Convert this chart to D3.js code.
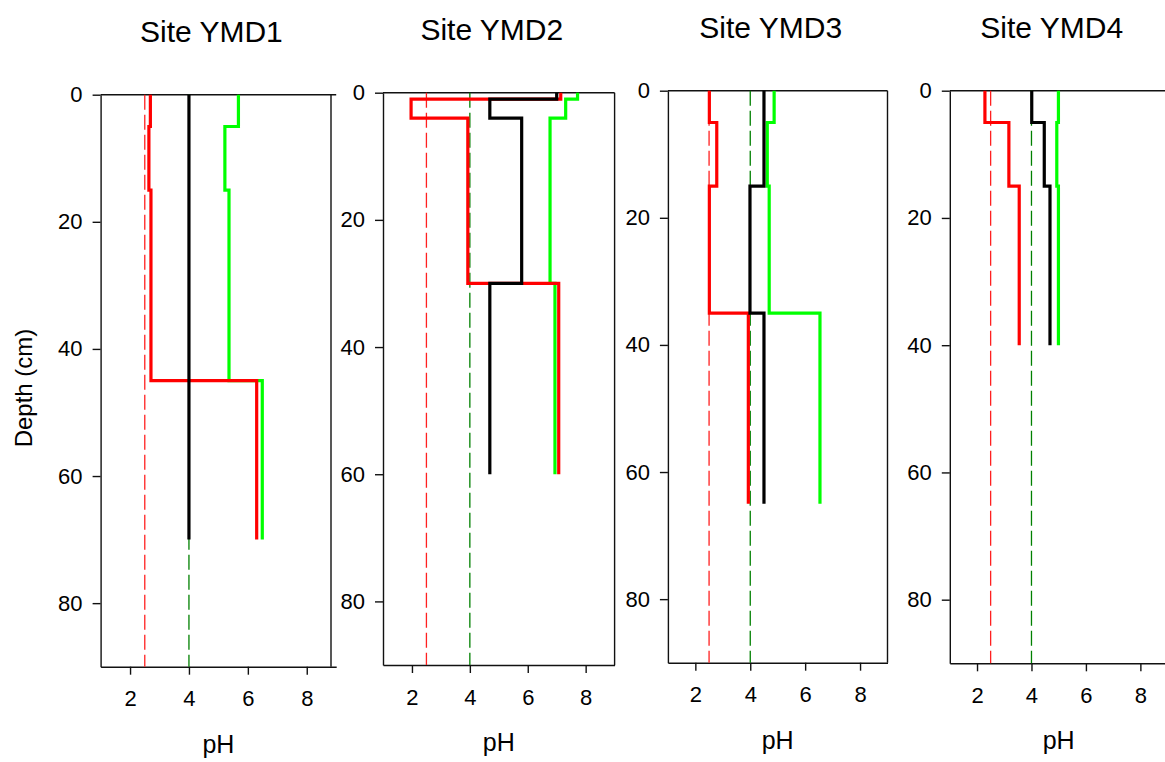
<!DOCTYPE html>
<html>
<head>
<meta charset="utf-8">
<script src="https://d3js.org/d3.v7.min.js"></script>
<style>
body { margin: 0; background: #fff; }
svg text { font-family: "Liberation Sans", Arial, sans-serif; fill: #000; }
</style>
</head>
<body>
<svg id="chart" width="1165" height="762"></svg>
<script>
// site profiles: layer boundaries (cm) and pH of each layer
var sites = ["Site YMD1", "Site YMD2", "Site YMD3", "Site YMD4"];
var depths = [
  [0, 5, 15, 45, 70],
  [0, 1, 4, 30, 60],
  [0, 5, 15, 35, 65],
  [0, 5, 15, 40]
];
var phRed = [
  [2.69, 2.64, 2.71, 6.30],
  [7.14, 1.97, 3.93, 7.07],
  [2.51, 2.78, 2.51, 3.93],
  [2.29, 3.17, 3.55]
];
var phBlack = [
  [4.0, 4.0, 4.0, 4.0],
  [7.0, 4.69, 5.79, 4.69],
  [4.5, 4.5, 3.99, 4.5],
  [4.01, 4.47, 4.68]
];
var phGreen = [
  [5.68, 5.22, 5.36, 6.49],
  [7.72, 7.31, 6.77, 6.94],
  [4.87, 4.62, 4.69, 6.54],
  [4.99, 4.93, 4.99]
];
var redLimit = 2.5;
var greenLimit = 4;
var phTicks = [2, 4, 6, 8];
var depthTicks = [0, 20, 40, 60, 80];

// panel boxes (pixels)
var panels = [
  {left: 100.6, right: 336.2, top: 94.7, bottom: 666.7, edge: 331},
  {left: 383.0, right: 614.6, top: 92.7, bottom: 665.0},
  {left: 667.9, right: 887.5, top: 90.7, bottom: 662.7},
  {left: 949.8, right: 1167.6, top: 90.7, bottom: 663.3}
];

var svg = d3.select("#chart");

// step profile: each layer is a vertical run, joined by horizontal jumps
var steps = function(d, v) {
  var pts = [], i;
  for (i = 0; i < v.length; i++) {
    pts.push([v[i], d[i]]);
    pts.push([v[i], d[i + 1]]);
  }
  return pts;
};

sites.forEach(function(name, k) {
  var p = panels[k];
  var x = d3.scaleLinear().domain([1, 9]).range([p.left, p.right]);
  var y = d3.scaleLinear().domain([0, 90]).range([p.top, p.bottom]);
  var g = svg.append("g");
  var line = d3.line().x(function(d) { return x(d[0]); }).y(function(d) { return y(d[1]); });
  var edge = p.edge || p.right;

  // frame
  g.append("line").attr("x1", p.left).attr("x2", p.right).attr("y1", p.top).attr("y2", p.top)
    .attr("stroke", "#111").attr("stroke-width", 1.4);
  g.append("line").attr("x1", edge).attr("x2", edge).attr("y1", p.top).attr("y2", p.bottom)
    .attr("stroke", "#111").attr("stroke-width", 1.4);

  var ya = g.append("g").attr("transform", "translate(" + p.left + ",0)")
    .call(d3.axisLeft(y).tickValues(depthTicks).tickSize(8).tickSizeOuter(0).tickPadding(10));
  var xa = g.append("g").attr("transform", "translate(0," + p.bottom + ")")
    .call(d3.axisBottom(x).tickValues(phTicks).tickSize(8).tickSizeOuter(0).tickPadding(16));
  [ya, xa].forEach(function(a) {
    a.attr("font-size", null);
    a.selectAll("path, line").attr("stroke", "#111").attr("stroke-width", 1.4);
    a.selectAll("text").attr("font-size", 22).style("font-size", "22px").attr("fill", "#000");
  });

  // reference lines
  g.append("path").attr("d", line([[redLimit, 0], [redLimit, 90]]))
    .attr("stroke", "#ff2020").attr("stroke-width", 1.3).attr("stroke-dasharray", "15,5").attr("fill", "none");
  g.append("path").attr("d", line([[greenLimit, 0], [greenLimit, 90]]))
    .attr("stroke", "#008000").attr("stroke-width", 1.3).attr("stroke-dasharray", "15,5").attr("fill", "none");

  // profiles
  [[phGreen, "#00ff00"], [phRed, "#ff0000"], [phBlack, "#000000"]].forEach(function(s) {
    g.append("path").attr("d", line(steps(depths[k], s[0][k])))
      .attr("stroke", s[1]).attr("stroke-width", 3.2).attr("fill", "none");
  });

  g.append("text").attr("x", (p.left + p.right) / 2 - 7).attr("y", p.top - 52.4)
    .attr("text-anchor", "middle").style("font-size", "30px").text(name);
  g.append("text").attr("x", (p.left + p.right) / 2).attr("y", p.bottom + 86)
    .attr("text-anchor", "middle").style("font-size", "25px").text("pH");
});

svg.append("text").attr("transform", "translate(32,388) rotate(-90)")
  .attr("text-anchor", "middle").style("font-size", "24px").text("Depth (cm)");
</script>
</body>
</html>
